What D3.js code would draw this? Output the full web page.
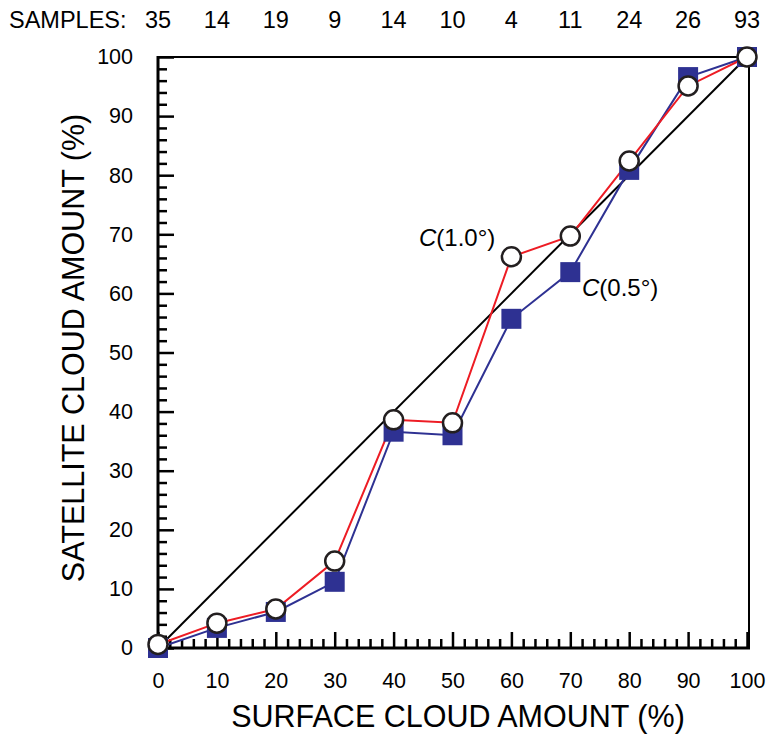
<!DOCTYPE html>
<html><head><meta charset="utf-8">
<script src="https://cdn.jsdelivr.net/npm/d3@7"></script>
<style>body{margin:0;background:#fff;} text{font-family:"Liberation Sans",Arial,sans-serif;}</style>
</head><body><svg id="c" width="769" height="736"></svg>
<script>
const surface = [0,10,20,30,40,50,60,70,80,90,100];
const samples = [35,14,19,9,14,10,4,11,24,26,93];
const sat05 = [0,3.4,6.1,11.2,36.6,36.0,55.7,63.6,80.9,96.6,100];
const sat10 = [0.6,4.2,6.6,14.7,38.6,38.1,66.2,69.7,82.4,95.1,100];
const xTicks = [0,10,20,30,40,50,60,70,80,90,100];
const yTicks = [0,10,20,30,40,50,60,70,80,90,100];

const svg = d3.select("#c");
const x = d3.scaleLinear().domain([0,100]).range([158,747]);
const y = d3.scaleLinear().domain([0,100]).range([648,57]);

// frame top/right
svg.append("line").attr("x1",x(0)).attr("x2",x(100)+2).attr("y1",y(100)).attr("y2",y(100)).attr("stroke","#000").attr("stroke-width",2);
svg.append("line").attr("x1",x(100)+2).attr("x2",x(100)+2).attr("y1",y(100)).attr("y2",y(0)).attr("stroke","#000").attr("stroke-width",2);

// left axis
const minorY = d3.range(0,101,2);
const gy = svg.append("g").attr("transform",`translate(${x(0)},0)`);
gy.call(d3.axisRight(y).tickValues(minorY).tickSize(9).tickFormat(""));
gy.selectAll(".tick line").attr("stroke-width",2.5).attr("x2",d=>d%10===0?16:9);
gy.select(".domain").attr("stroke-width",3).attr("d",`M0,${y(0)+1.5}V${y(100)-1}`);
const gyl = svg.append("g").attr("transform",`translate(${x(0)},0)`);
gyl.call(d3.axisLeft(y).tickValues(yTicks).tickSize(0).tickPadding(25));
gyl.select(".domain").remove();
gyl.selectAll("text").attr("font-size",21.5).attr("font-family","Liberation Sans, Arial, sans-serif").attr("fill","#000");

// bottom axis
const minorX = d3.range(0,101,2);
const gx = svg.append("g").attr("transform",`translate(0,${y(0)})`);
gx.call(d3.axisTop(x).tickValues(minorX).tickSize(9).tickFormat(""));
gx.selectAll(".tick line").attr("stroke-width",2.5).attr("y2",d=>d%10===0?-16:-9);
gx.select(".domain").attr("stroke-width",3).attr("d",`M${x(0)-1.5},0H${x(100)+3}`);
const gxl = svg.append("g").attr("transform",`translate(0,${y(0)})`);
gxl.call(d3.axisBottom(x).tickValues(xTicks).tickSize(0).tickPadding(25));
gxl.select(".domain").remove();
gxl.selectAll("text").attr("font-size",21.5).attr("font-family","Liberation Sans, Arial, sans-serif").attr("fill","#000");

// samples row
svg.append("text").attr("x",9).attr("y",28).attr("font-size",23.5).text("SAMPLES:");
svg.append("g").selectAll("text").data(samples).join("text")
  .attr("x",(d,i)=>x(surface[i])).attr("y",28).attr("text-anchor","middle").attr("font-size",23.5).text(d=>d);

// axis titles
svg.append("text").attr("x",458).attr("y",727).attr("text-anchor","middle").attr("font-size",30.5).text("SURFACE CLOUD AMOUNT (%)");
svg.append("text").attr("transform",`translate(84,348) rotate(-90)`).attr("text-anchor","middle").attr("font-size",30.5).text("SATELLITE CLOUD AMOUNT (%)");

// diagonal
svg.append("line").attr("x1",x(0)).attr("y1",y(0)).attr("x2",x(100)).attr("y2",y(100)).attr("stroke","#000").attr("stroke-width",2);

const line = arr => d3.line().x((d,i)=>x(surface[i])).y(d=>y(d))(arr);
const blue = "#2e3192", red = "#ed1c24";
svg.append("path").attr("d",line(sat05)).attr("fill","none").attr("stroke",blue).attr("stroke-width",2);
svg.append("path").attr("d",line(sat10)).attr("fill","none").attr("stroke",red).attr("stroke-width",2);

svg.append("g").selectAll("rect").data(sat05).join("rect")
  .attr("x",(d,i)=>x(surface[i])-10).attr("y",d=>y(d)-10).attr("width",20).attr("height",20).attr("fill",blue);
svg.append("g").selectAll("circle").data(sat10).join("circle")
  .attr("cx",(d,i)=>x(surface[i])).attr("cy",d=>y(d)).attr("r",9.5).attr("fill","#fff").attr("stroke","#231f20").attr("stroke-width",2.5);

// labels
function lab(tx,ty,s){
  const t = svg.append("text").attr("x",tx).attr("y",ty).attr("font-size",24);
  t.append("tspan").attr("font-style","italic").text("C");
  t.append("tspan").text(s);
}
lab(419,246,"(1.0°)");
lab(582,296,"(0.5°)");
</script></body></html>
